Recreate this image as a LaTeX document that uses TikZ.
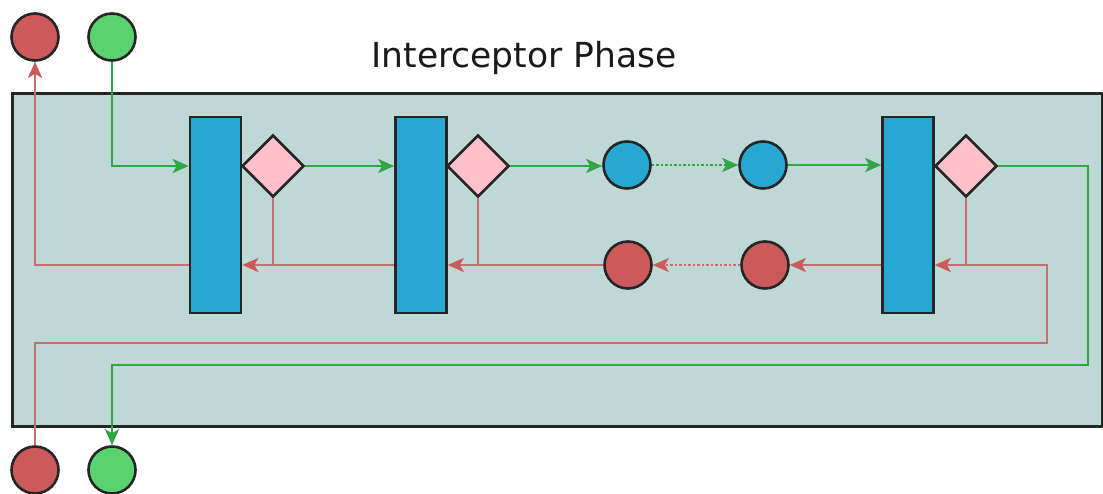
\documentclass[tikz,border=0pt]{standalone}
\usepackage{fontspec}
\setmainfont{DejaVu Sans}
\usetikzlibrary{shapes.geometric,arrows.meta}
\definecolor{bgc}{RGB}{190,217,213}
\definecolor{bluec}{RGB}{38,168,210}
\definecolor{pinkc}{RGB}{255,192,203}
\definecolor{redc}{RGB}{205,90,90}
\definecolor{greenc}{RGB}{90,210,110}
\definecolor{redl}{RGB}{200,110,110}
\definecolor{greenl}{RGB}{50,165,70}
\tikzset{
  dot/.style={circle,draw=black!85,line width=2.6pt,minimum size=47pt,inner sep=0pt},
  reddot/.style={dot,fill=redc},
  greendot/.style={dot,fill=greenc},
  bluedot/.style={dot,fill=bluec},
  stage/.style={rectangle,draw=black!85,line width=2.6pt,fill=bluec,minimum width=51pt,minimum height=196pt,inner sep=0pt},
  gate/.style={diamond,draw=black!85,line width=2.6pt,fill=pinkc,minimum width=62pt,minimum height=62pt,inner sep=0pt,aspect=1},
  gl/.style={draw=greenl,line width=2.8pt},
  rl/.style={draw=redl,line width=2.8pt},
  gflow/.style={gl,-{Stealth[length=16pt,width=14pt,inset=4pt,fill=greenl]}},
  rflow/.style={rl,-{Stealth[length=16pt,width=14pt,inset=4pt,fill=redc,color=redc]}},
  dotline/.style={dash pattern=on 2.5pt off 2pt,line width=2.2pt},
}
\begin{document}
\begin{tikzpicture}[x=1pt,y=-1pt]
\useasboundingbox (0,0) rectangle (1103,493);
\node[draw=black!85,line width=2.6pt,fill=bgc,anchor=north west,minimum width=1090pt,minimum height=333pt,inner sep=0pt] (phase) at (11,92) {};
\node[anchor=base,font=\fontsize{34.5}{40}\selectfont,text=black!90] (title) at (524,67) {Interceptor Phase};

\node[reddot] (rout) at (35,37) {};
\node[greendot] (gin) at (112,37) {};
\node[reddot] (rin) at (35,470) {};
\node[greendot] (gout) at (112,470) {};

\node[stage] (b1) at (215.5,215) {};
\node[stage] (b2) at (421,215) {};
\node[stage] (b3) at (908,215) {};
\node[gate] (d1) at (273,166) {};
\node[gate] (d2) at (478,166) {};
\node[gate] (d3) at (966,166) {};

\node[bluedot] (bc1) at (627,165) {};
\node[bluedot] (bc2) at (763,165) {};
\node[reddot] (rc1) at (628,265) {};
\node[reddot] (rc2) at (765,265) {};

\coordinate (gB) at (1088,365);
\coordinate (rB) at (1047,343);

% green forward path
\draw[gflow] (gin) |- (b1.west |- d1.west);
\draw[gflow] (d1.east) -- (b2.west |- d1.east);
\draw[gflow] (d2.east) -- (bc1.west |- d2.east);
\draw[gflow,dotline] (bc1.east) -- (bc2.west);
\draw[gflow] (bc2.east) -- (b3.west |- bc2.east);
\draw[gflow] (d3.east) -| (gB) -| (gout.north);

% red return path
\draw[rflow] (rin.north) |- (rB) |- (b3.east |- rc2);
\draw[rl] (d3.south) -- (d3.south |- rc2);
\draw[rflow] (b3.west |- rc2) -- (rc2.east);
\draw[rflow,dotline] (rc2.west) -- (rc1.east);
\draw[rflow] (rc1.west) -- (b2.east |- rc1);
\draw[rl] (d2.south) -- (d2.south |- rc1);
\draw[rflow] (b2.west |- rc1) -- (b1.east |- rc1);
\draw[rl] (d1.south) -- (d1.south |- rc1);
\draw[rflow] (b1.west |- rc1) -| (rout.south);
\end{tikzpicture}
\end{document}
